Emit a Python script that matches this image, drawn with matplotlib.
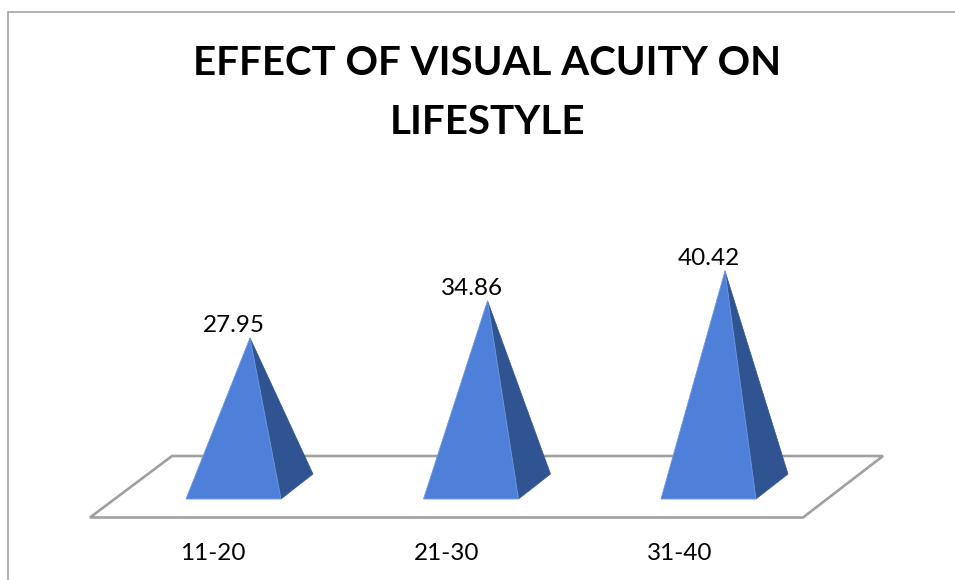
import matplotlib
matplotlib.use('Agg')
import matplotlib.pyplot as plt
from matplotlib.patches import Polygon

# Data
categories = ['11-20', '21-30', '31-40']
values = [27.95, 34.86, 40.42]
title = 'EFFECT OF VISUAL ACUITY ON\nLIFESTYLE'

W, H = 955, 580
plt.rcParams['font.family'] = ['Lato', 'DejaVu Sans']

fig = plt.figure(figsize=(W / 100, H / 100), dpi=100)
fig.patch.set_facecolor('white')

# pixel layer for frame, floor and text placement
bg = fig.add_axes([0, 0, 1, 1])
bg.set_xlim(0, W)
bg.set_ylim(H, 0)
bg.axis('off')

grey = '#a6a6a6'
bg.plot([8, 8, W], [H, 12, 12], color=grey, lw=1.2, solid_joinstyle='miter')
bg.add_patch(Polygon([(90, 517.5), (803, 517.5), (883, 456), (172, 456)], closed=True,
                     facecolor='white', edgecolor='#a0a0a0', lw=1.9))

# Data layer: x in category steps, y in chart value
x0, x_step = 233.5, 237.5
y0, y_step = 488.0, 5.37
base_value = -2.05  # floor of the 3D box sits a bit below zero

ax = fig.add_axes([0, 0, 1, 1])
ax.patch.set_alpha(0)
ax.set_xlim(-x0 / x_step, (W - x0) / x_step)
ax.set_ylim((y0 - H) / y_step, y0 / y_step)
ax.axis('off')

half_w = 47.5 / x_step
apex_dx = 16.5 / x_step
side_dx = 79.5 / x_step
side_dy = 25 / y_step

for i, v in enumerate(values):
    left = (i - half_w, base_value)
    right = (i + half_w, base_value)
    corner = (i + side_dx, base_value + side_dy)
    apex = (i + apex_dx, v)
    ax.add_patch(Polygon([apex, right, corner], closed=True, facecolor='#2f5491',
                         edgecolor='#2f5491', lw=0.5))
    ax.add_patch(Polygon([left, right, apex], closed=True, facecolor='#4f80d9',
                         edgecolor='#6f97e0', lw=0.6))
    ax.text(i + apex_dx - 16 / x_step, v + 2 / y_step, f'{v:.2f}', ha='center', va='bottom',
            fontsize=17.5, color='black')

for i, c in enumerate(categories):
    bg.text(213 + 233.5 * i, 553, c, ha='center', va='center', fontsize=17.5, color='black')

bg.text(487, 93, title, ha='center', va='center', fontsize=29, fontweight='bold',
        color='black', linespacing=1.72)

fig.savefig('out.png', dpi=100)
